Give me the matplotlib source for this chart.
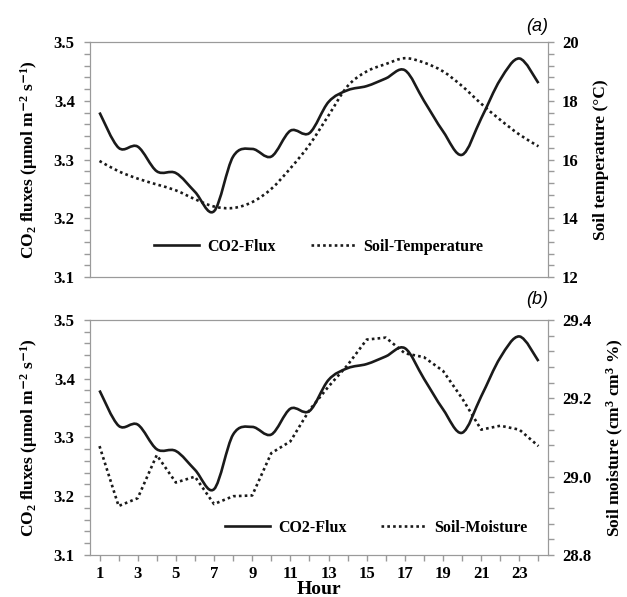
import numpy as np
import matplotlib
matplotlib.use('Agg')
import matplotlib.pyplot as plt
from matplotlib.path import Path
from matplotlib.patches import PathPatch
from matplotlib.lines import Line2D
from matplotlib.ticker import MultipleLocator

plt.rcParams.update({
    'font.family': 'Liberation Serif',
    'font.weight': 'bold',
    'mathtext.fontset': 'custom',
    'mathtext.rm': 'Liberation Serif:bold',
    'mathtext.it': 'Liberation Serif:bold:italic',
    'mathtext.bf': 'Liberation Serif:bold',
    'mathtext.default': 'rm',
})

hours = list(range(1, 25))
hour_labels = [str(h) for h in range(1, 25, 2)]

co2_flux = [3.380, 3.320, 3.322, 3.280, 3.277, 3.245, 3.212, 3.305,
            3.318, 3.305, 3.349, 3.345, 3.398, 3.418, 3.425, 3.438,
            3.452, 3.400, 3.348, 3.308, 3.370, 3.436, 3.472, 3.430]

soil_temp = [15.95, 15.60, 15.35, 15.15, 14.95, 14.65, 14.40, 14.35,
             14.55, 15.00, 15.70, 16.50, 17.50, 18.50, 19.00, 19.25,
             19.45, 19.30, 19.00, 18.50, 17.90, 17.35, 16.85, 16.45]

soil_moist = [29.078, 28.925, 28.945, 29.055, 28.985, 29.000, 28.930, 28.950,
              28.952, 29.060, 29.090, 29.170, 29.230, 29.285, 29.350, 29.355,
              29.315, 29.305, 29.270, 29.200, 29.120, 29.130, 29.120, 29.078]

flux_ticks = [3.1, 3.2, 3.3, 3.4, 3.5]
temp_ticks = [12, 14, 16, 18, 20]
moist_ticks = [28.8, 29.0, 29.2, 29.4]


def smooth_path(x, y):
    # Excel style smoothed line: bezier segments through the data points
    x = np.asarray(x, float)
    y = np.asarray(y, float)
    verts = [(x[0], y[0])]
    codes = [Path.MOVETO]
    n = len(x)
    for i in range(n - 1):
        x0, y0 = (x[i - 1], y[i - 1]) if i > 0 else (x[i], y[i])
        x3, y3 = (x[i + 2], y[i + 2]) if i + 2 < n else (x[i + 1], y[i + 1])
        c1 = (x[i] + (x[i + 1] - x0) / 6, y[i] + (y[i + 1] - y0) / 6)
        c2 = (x[i + 1] - (x3 - x[i]) / 6, y[i + 1] - (y3 - y[i]) / 6)
        verts += [c1, c2, (x[i + 1], y[i + 1])]
        codes += [Path.CURVE4] * 3
    return Path(verts, codes)


line_col = '#1a1a1a'
spine_col = '#9a9a9a'
solid_kw = dict(color=line_col, lw=1.9)
dot_kw = dict(color=line_col, lw=1.9, linestyle=(0, (1, 1.2)))
tick_fs = 12
label_fs = 12.5

fig = plt.figure(figsize=(6.27, 5.97), dpi=100)
ax_top = fig.add_axes([0.1435, 0.536, 0.7305, 0.3936])
ax_bot = fig.add_axes([0.1435, 0.0704, 0.7305, 0.3936])


def style_axes(ax, ax2, right_ticks, right_lim, right_minor, right_label):
    for a in (ax, ax2):
        for s in a.spines.values():
            s.set_color(spine_col)
        a.tick_params(colors=spine_col, labelcolor='black',
                      direction='out', length=4, width=1)
        a.tick_params(which='minor', colors=spine_col, direction='out',
                      length=4, width=1)
    ax.set_xlim(0.5, 24.5)
    ax.set_yticks(flux_ticks)
    ax.set_yticklabels([f'{v:.1f}' for v in flux_ticks], fontweight='bold',
                       fontsize=tick_fs)
    ax.yaxis.set_minor_locator(MultipleLocator(0.02))
    ax.set_ylim(3.1, 3.5)
    ax.set_ylabel(r'CO$_2$ fluxes (μmol m$^{\mathsf{-}2}$ s$^{\mathsf{-}1}$)',
                  fontsize=label_fs, fontweight='bold', labelpad=10)
    ax.tick_params(axis='y', pad=7)

    ax2.set_yticks(right_ticks)
    ax2.set_yticklabels([str(v) for v in right_ticks], fontweight='bold',
                        fontsize=tick_fs)
    ax2.yaxis.set_minor_locator(MultipleLocator(right_minor))
    ax2.set_ylim(*right_lim)
    ax2.set_ylabel(right_label, fontsize=label_fs, fontweight='bold', labelpad=10)
    ax2.tick_params(axis='y', pad=6)


legend_kw = dict(ncol=2, frameon=False, loc='center', handlelength=2.8,
                 columnspacing=2.2, handletextpad=0.5,
                 prop={'weight': 'bold', 'size': 11.5})

# (a) CO2 flux and soil temperature
ax_top2 = ax_top.twinx()
style_axes(ax_top, ax_top2, temp_ticks, (12, 20), 0.4, 'Soil temperature (°C)')
ax_top.add_patch(PathPatch(smooth_path(hours, co2_flux), fill=False, **solid_kw))
ax_top2.add_patch(PathPatch(smooth_path(hours, soil_temp), fill=False, **dot_kw))
ax_top.set_xticks([])
ax_top.text(1.0, 1.03, '(a)', transform=ax_top.transAxes, ha='right', va='bottom',
            fontsize=13, family='Liberation Sans', style='italic', fontweight='normal')
ax_top.legend([Line2D([], [], **solid_kw), Line2D([], [], **dot_kw)],
              ['CO2-Flux', 'Soil-Temperature'],
              bbox_to_anchor=(0.5, 0.128), **legend_kw)

# (b) CO2 flux and soil moisture
ax_bot2 = ax_bot.twinx()
style_axes(ax_bot, ax_bot2, moist_ticks, (28.8, 29.4), 0.04,
           'Soil moisture (cm$^3$ cm$^3$ %)')
ax_bot2.set_yticklabels([f'{v:.1f}' for v in moist_ticks], fontweight='bold',
                        fontsize=tick_fs)
ax_bot.add_patch(PathPatch(smooth_path(hours, co2_flux), fill=False, **solid_kw))
ax_bot2.plot(hours, soil_moist, **dot_kw)
ax_bot.set_xticks(range(1, 25, 2))
ax_bot.set_xticklabels(hour_labels, fontweight='bold', fontsize=tick_fs)
ax_bot.xaxis.set_minor_locator(MultipleLocator(1))
ax_bot.tick_params(axis='x', pad=4)
ax_bot.set_xlabel('Hour', fontsize=14, fontweight='bold', labelpad=-1)
ax_bot.text(1.0, 1.05, '(b)', transform=ax_bot.transAxes, ha='right', va='bottom',
            fontsize=13, family='Liberation Sans', style='italic', fontweight='normal')
ax_bot.legend([Line2D([], [], **solid_kw), Line2D([], [], **dot_kw)],
              ['CO2-Flux', 'Soil-Moisture'],
              bbox_to_anchor=(0.625, 0.115), **legend_kw)

fig.savefig('out.png', dpi=100)
